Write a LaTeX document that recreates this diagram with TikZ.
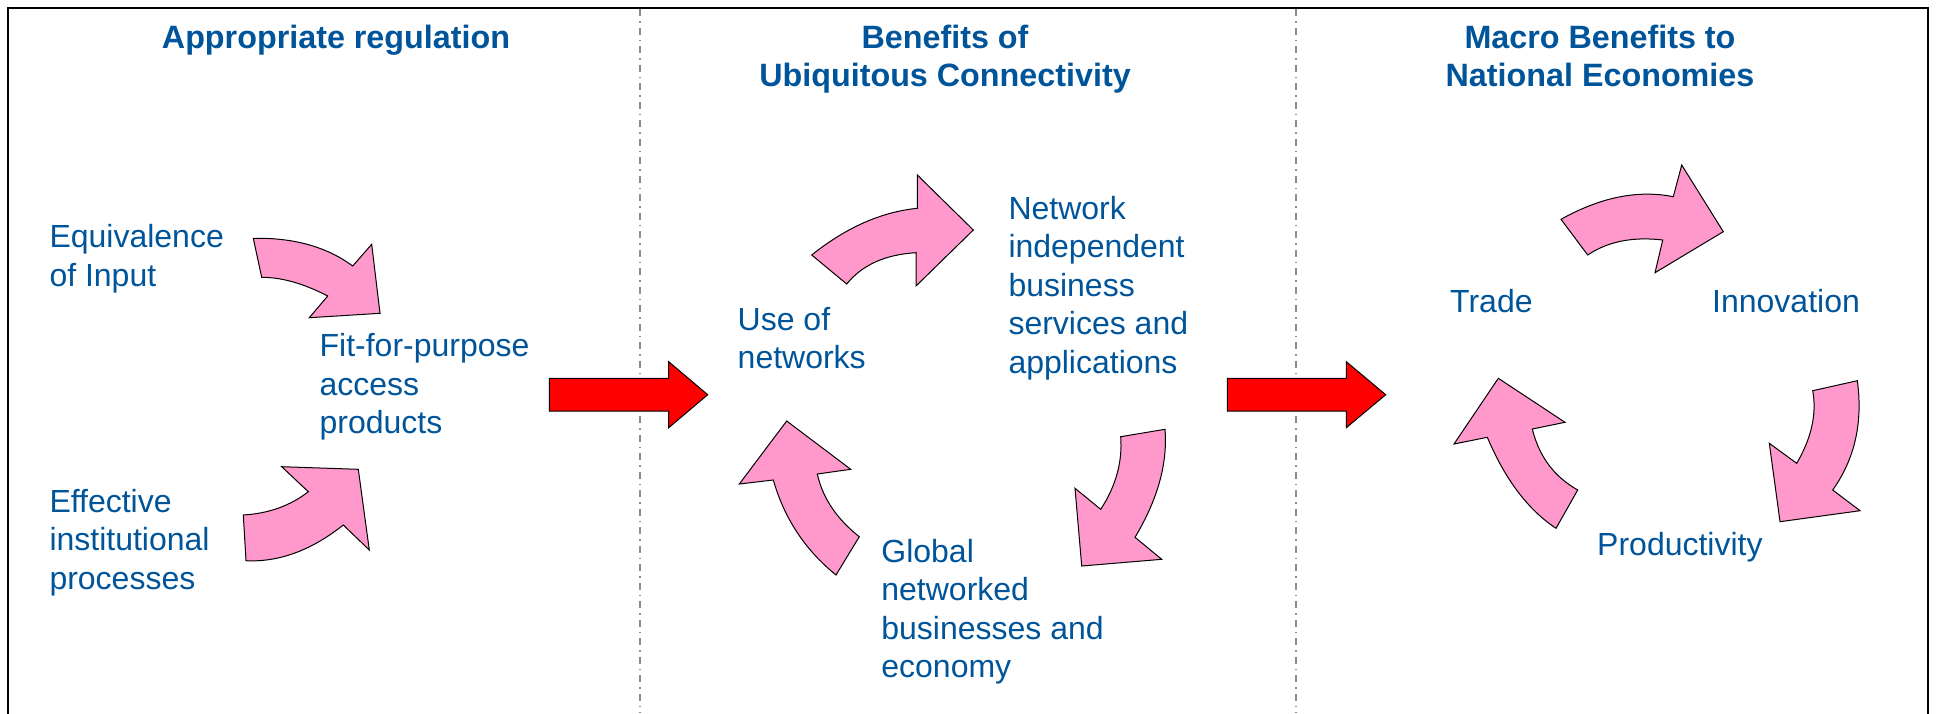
\documentclass[tikz,border=0pt]{standalone}
\usepackage{fontspec}
\setmainfont{Liberation Sans}
\usetikzlibrary{calc}
\definecolor{txtblue}{HTML}{00549A}
\definecolor{pinkc}{HTML}{FF99CC}
\definecolor{redc}{HTML}{FF0000}
\definecolor{divgray}{HTML}{8C8C8C}
% quadratic-like arc: start (#1,#2), tangent-intersection (#3,#4), end (#5,#6)
\def\qc(#1,#2)(#3,#4)(#5,#6){.. controls ({#1+2/3*((#3)-(#1))},{#2+2/3*((#4)-(#2))}) and ({#5+2/3*((#3)-(#5))},{#6+2/3*((#4)-(#6))}) .. (#5,#6)}
\tikzset{
  pinkarrow/.style={fill=pinkc, draw=black, line width=1pt, line join=miter},
  redarrow/.style={fill=redc, draw=black, line width=1pt, line join=miter},
  divider/.style={draw=divgray, line width=1.4pt, dash pattern=on 7pt off 5pt on 1.5pt off 5pt},
  frame/.style={draw=black, line width=2pt},
  txt/.style={anchor=base west, inner sep=0pt, text=txtblue, font=\fontsize{32}{38.5}\selectfont},
  ttl/.style={anchor=base, inner sep=0pt, text=txtblue, font=\fontsize{32.3}{38.5}\selectfont\bfseries},
}
\begin{document}
\begin{tikzpicture}[x=1pt,y=-1pt]
\useasboundingbox (0,0) rectangle (1937,713);
% frame and dividers
\draw[frame] (8,730) -- (8,8) -- (1928,8) -- (1928,730);
\draw[divider] (640,9) -- (640,713);
\draw[divider] (1296,9) -- (1296,713);
% titles
\node[ttl] (t1) at (336,48) {Appropriate regulation};
\node[ttl] (t2) at (945,48) {\begin{tabular}[t]{@{}c@{}}Benefits of\\Ubiquitous Connectivity\end{tabular}};
\node[ttl] (t3) at (1600,48) {\begin{tabular}[t]{@{}c@{}}Macro Benefits to\\National Economies\end{tabular}};
% left panel texts
\node[txt] (eq) at (49.3,247.7) {\begin{tabular}[t]{@{}l@{}}Equivalence\\of Input\end{tabular}};
\node[txt] (eff) at (49.3,512.3) {\begin{tabular}[t]{@{}l@{}}Effective\\institutional\\processes\end{tabular}};
\node[txt] (fit) at (319.4,356.7) {\begin{tabular}[t]{@{}l@{}}Fit-for-purpose\\access\\products\end{tabular}};
% middle panel texts
\node[txt] (use) at (737.5,330) {\begin{tabular}[t]{@{}l@{}}Use of\\networks\end{tabular}};
\node[txt] (net) at (1008.3,219.3) {\begin{tabular}[t]{@{}l@{}}Network\\independent\\business\\services and\\applications\end{tabular}};
\node[txt] (glob) at (881.2,562.3) {\begin{tabular}[t]{@{}l@{}}Global\\networked\\businesses and\\economy\end{tabular}};
% right panel texts
\node[txt] (trade) at (1450,312.7) {Trade};
\node[txt] (innov) at (1712,312.7) {Innovation};
\node[txt] (prod) at (1597,555) {Productivity};
% left curved arrows
\draw[pinkarrow] (253.3,238.3) \qc(253.3,238.3)(313.6,237.1)(352.7,266) -- (371.7,244.3) -- (380,313.3) -- (309.3,317.7) -- (327.7,296) \qc(327.7,296)(291.7,277.3)(261.7,277.3) -- cycle;
\draw[pinkarrow] (243.3,515) \qc(243.3,515)(281.4,512.7)(308.3,491.7) -- (281.7,466.7) -- (358.3,469.3) -- (369.3,550) -- (343.3,525) \qc(343.3,525)(295,563.2)(246,560.7) -- cycle;
% middle curved arrows
\draw[pinkarrow] (811.7,255) \qc(811.7,255)(863.4,213.7)(917.3,208.3) -- (917.3,175) -- (973.3,230) -- (916,286) -- (916,252.7) \qc(916,252.7)(869.9,255.4)(846.7,284) -- cycle;
\draw[pinkarrow] (1120.7,436.7) -- (1165,429.3) \qc(1165,429.3)(1169.1,480.4)(1135,537.3) -- (1161.7,559.3) -- (1081.7,566) -- (1075,488.3) -- (1100.7,509.3) \qc(1100.7,509.3)(1123.5,474.5)(1120.7,436.7) -- cycle;
\draw[pinkarrow] (859.3,536.7) -- (836,575) \qc(836,575)(789.8,537.6)(773.3,480) -- (739.3,484) -- (786.7,421) -- (850.7,469.3) -- (817.3,474) \qc(817.3,474)(825.3,509.9)(859.3,536.7) -- cycle;
% right curved arrows
\draw[pinkarrow] (1561,219.3) \qc(1561,219.3)(1620.4,186.1)(1673.3,196.7) -- (1681.7,165) -- (1723.3,231.7) -- (1655,272.7) -- (1662.7,240) \qc(1662.7,240)(1617.8,234.7)(1587.7,255) -- cycle;
\draw[pinkarrow] (1812.7,390.7) -- (1857.3,380.7) \qc(1857.3,380.7)(1865.9,443.2)(1832.7,490) -- (1860,510.7) -- (1780,521.7) -- (1769.3,443.3) -- (1796.7,463.3) \qc(1796.7,463.3)(1819,425)(1812.7,390.7) -- cycle;
\draw[pinkarrow] (1577.7,490) -- (1556,528.3) \qc(1556,528.3)(1514,500.5)(1487.3,437.3) -- (1454,444) -- (1498.3,378.3) -- (1565,422.3) -- (1532.3,429) \qc(1532.3,429)(1542.3,470)(1577.7,490) -- cycle;
% red block arrows between panels
\draw[redarrow] (549.3,378.3) -- (668.7,378.3) -- (668.7,361.7) -- (707.7,394.7) -- (668.7,427.7) -- (668.7,411) -- (549.3,411) -- cycle;
\draw[redarrow] (1227.3,378.3) -- (1346.3,378.3) -- (1346.3,361.7) -- (1385.7,394.7) -- (1346.3,427.7) -- (1346.3,411) -- (1227.3,411) -- cycle;
\end{tikzpicture}
\end{document}
